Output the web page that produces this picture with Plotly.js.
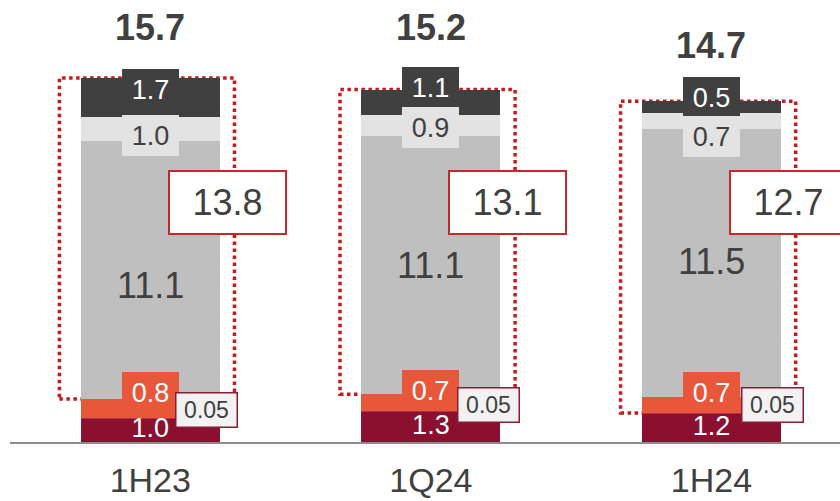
<!DOCTYPE html>
<html>
<head>
<meta charset="utf-8">
<script src="https://cdn.plot.ly/plotly-3.0.1.min.js"></script>
<style>
  html, body { margin: 0; padding: 0; background: #ffffff; }
  #chart { width: 840px; height: 501px; }
</style>
</head>
<body>
<div id="chart"></div>
<script>
// ---- data ----
const periods    = ['1H23', '1Q24', '1H24'];
const coreBase   = [1.0, 1.3, 1.2];     // bottom segment (dark red)
const sliver     = [0.05, 0.05, 0.05];  // thin segment, labelled in a side box
const orangePart = [0.8, 0.7, 0.7];
const grayMain   = [11.1, 11.1, 11.5];
const grayLight  = [1.0, 0.9, 0.7];
const grayDark   = [1.7, 1.1, 0.5];
const totals     = [15.7, 15.2, 14.7];

// ---- styling ----
const FONT = 'Arial, "Liberation Sans", sans-serif';
const TXT = '#404040';
const C = {
  core: '#8B1030', sliver: '#B0344E', orange: '#E8573A',
  gray: '#BFBFBF', light: '#E3E3E3', dark: '#404040',
  dotted: '#C8191F', box: '#C8282D', sliverBorder: '#8B1A33'
};
// vertical label offsets in px (positive = up), per period
const nudge = {
  dark:   [8, 15, 9.5],
  light:  [-6, -1.5, -15.5],
  gray:   [-16, 0, 1],
  orange: [15.5, 11.5, 12.5],
  sliver: [8, 6, 8.5],
  total:  [49, 61, 54.5]
};
const sliverShiftX = [56, 57.5, 61.5];
const boxFloorLevel = [3, 3, 2];   // stack level where the dotted frame starts

const series = [
  { v: coreBase,   color: C.core },
  { v: sliver,     color: C.sliver },
  { v: orangePart, color: C.orange },
  { v: grayMain,   color: C.gray },
  { v: grayLight,  color: C.light },
  { v: grayDark,   color: C.dark }
];

// cumulative stack levels: level[k][i] = top of series k-1 (level 0 = 0)
const levels = [periods.map(() => 0)];
series.forEach((s, k) => levels.push(levels[k].map((b, i) => b + s.v[i])));
const mid = (k, i) => (levels[k][i] + levels[k + 1][i]) / 2;

const traces = series.map(s => ({
  type: 'bar', x: periods, y: s.v, width: 0.495,
  marker: { color: s.color, line: { width: 0 } },
  hoverinfo: 'skip'
}));

// bottom segment labels, clipped at the axis
traces.push({
  type: 'scatter', mode: 'text', x: periods,
  y: periods.map((p, i) => mid(0, i)),
  text: coreBase.map(v => v.toFixed(1)),
  textposition: 'middle center',
  textfont: { family: FONT, size: 27, color: '#ffffff' },
  cliponaxis: true, hoverinfo: 'skip'
});

const shapes = [];
const annotations = [];

periods.forEach((p, i) => {
  // dotted frame around the three gray segments
  shapes.push({
    type: 'rect', xref: 'x', yref: 'y', layer: 'below',
    x0: i - 0.324, x1: i + 0.30,
    y0: levels[boxFloorLevel[i]][i], y1: levels[6][i],
    line: { color: C.dotted, width: 3.5, dash: 'dot' },
    fillcolor: 'rgba(0,0,0,0)'
  });

  const boxed = { showarrow: false, xref: 'x', yref: 'y', x: p,
                  width: 57, height: 41, borderpad: 0, borderwidth: 0 };

  annotations.push(Object.assign({}, boxed, {
    y: mid(5, i), yshift: nudge.dark[i], text: grayDark[i].toFixed(1),
    bgcolor: C.dark, font: { family: FONT, size: 27, color: '#ffffff' }
  }));
  annotations.push(Object.assign({}, boxed, {
    y: mid(4, i), yshift: nudge.light[i], text: grayLight[i].toFixed(1),
    bgcolor: C.light, font: { family: FONT, size: 27, color: TXT }
  }));
  annotations.push({
    showarrow: false, xref: 'x', yref: 'y', x: p,
    y: mid(3, i), yshift: nudge.gray[i], text: grayMain[i].toFixed(1),
    font: { family: FONT, size: 36, color: TXT }
  });
  annotations.push(Object.assign({}, boxed, {
    y: mid(2, i), yshift: nudge.orange[i], text: orangePart[i].toFixed(1),
    bgcolor: C.orange, font: { family: FONT, size: 27, color: '#ffffff' }
  }));
  annotations.push({
    showarrow: false, xref: 'x', yref: 'y', x: p,
    y: mid(1, i), yshift: nudge.sliver[i], xshift: sliverShiftX[i],
    text: sliver[i].toFixed(2), width: 60, height: 33, borderpad: 0,
    bgcolor: '#F2F2F2', bordercolor: C.sliverBorder, borderwidth: 1.5,
    font: { family: FONT, size: 23, color: TXT }
  });

  // framed subtotal of the gray segments
  const sub = Math.round((grayMain[i] + grayLight[i] + grayDark[i]) * 10) / 10;
  annotations.push({
    showarrow: false, xref: 'x', yref: 'y', x: p, y: 10.3, xshift: 77,
    text: sub.toFixed(1), width: 115, height: 61, borderpad: 0,
    bgcolor: '#ffffff', bordercolor: C.box, borderwidth: 2,
    font: { family: FONT, size: 36, color: TXT }
  });

  // bar total
  annotations.push({
    showarrow: false, xref: 'x', yref: 'y', x: p,
    y: totals[i], yshift: nudge.total[i], text: '<b>' + totals[i].toFixed(1) + '</b>',
    font: { family: FONT, size: 36, color: TXT }
  });
});

const layout = {
  width: 840, height: 501,
  margin: { l: 10, r: 0, t: 0, b: 59, pad: 0 },
  paper_bgcolor: '#ffffff', plot_bgcolor: '#ffffff',
  barmode: 'stack', showlegend: false, hovermode: false,
  font: { family: FONT, color: TXT },
  xaxis: {
    type: 'category', range: [-0.5, 2.458],
    showline: true, linecolor: '#8C8C8C', linewidth: 2,
    ticks: '', showgrid: false, zeroline: false,
    tickfont: { family: FONT, size: 34, color: TXT },
    ticklabelstandoff: 7
  },
  yaxis: { range: [0, 19], visible: false, showgrid: false, zeroline: false },
  shapes: shapes,
  annotations: annotations
};

Plotly.newPlot('chart', traces, layout, { staticPlot: true, displayModeBar: false });
</script>
</body>
</html>
